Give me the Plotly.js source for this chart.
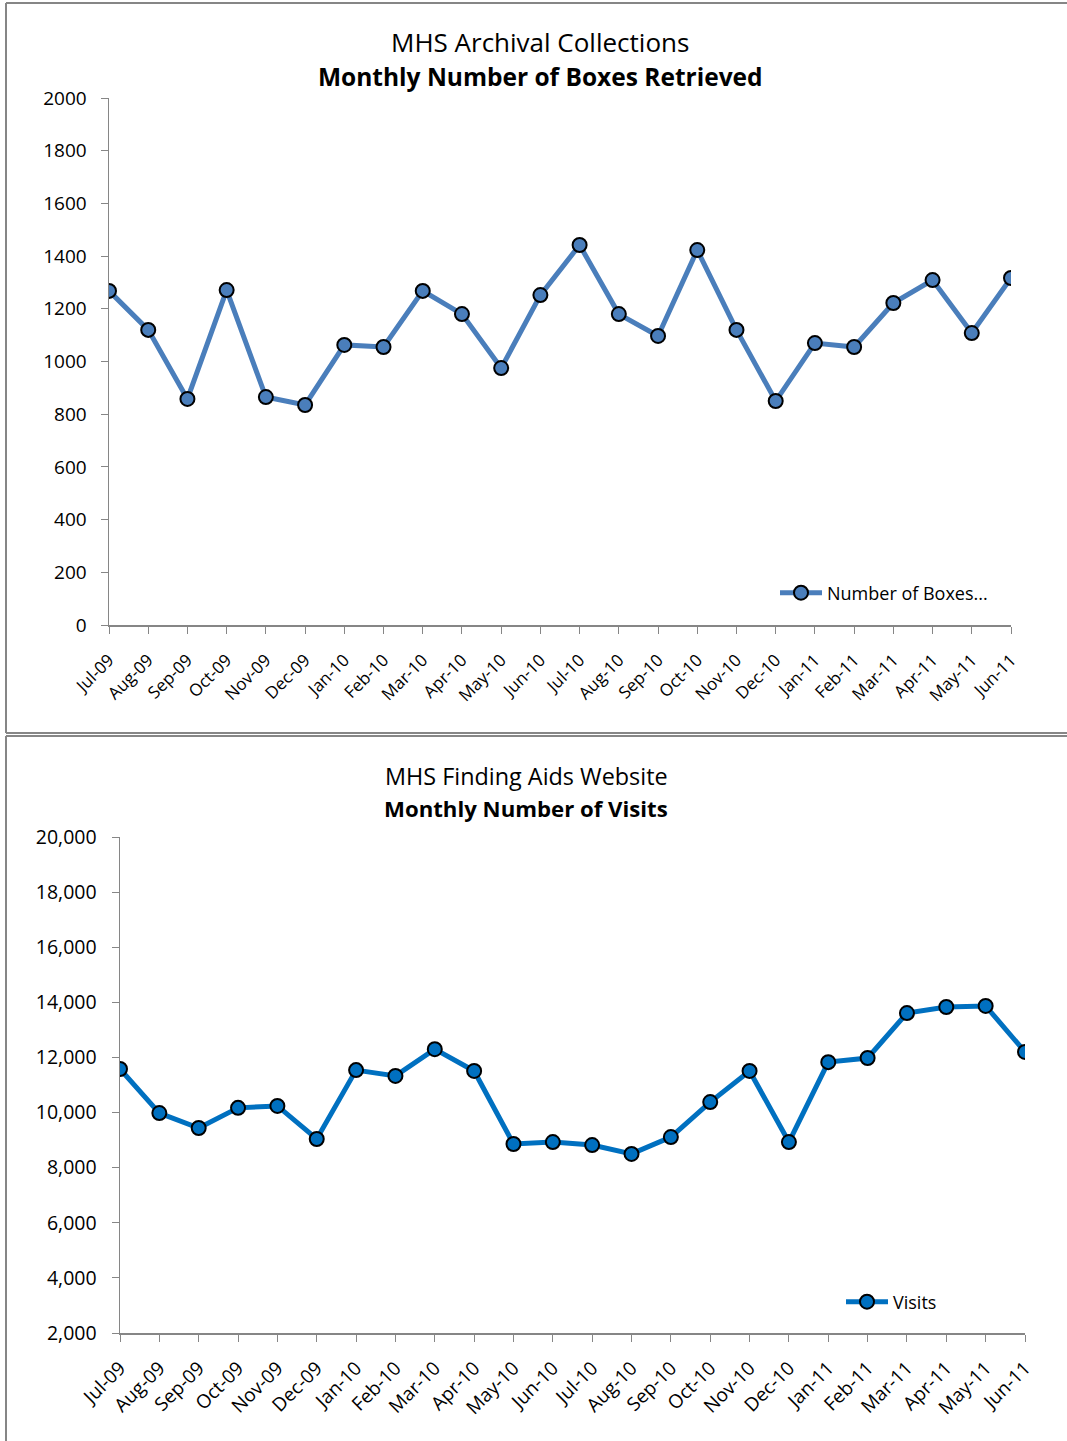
<!DOCTYPE html>
<html>
<head>
<meta charset="utf-8">
<script src="https://cdn.plot.ly/plotly-3.0.1.min.js"></script>
<style>
  body { margin: 0; background: #fff; }
  #chart { width: 1067px; height: 1441px; }
</style>
</head>
<body>
<div id="chart"></div>
<script>
// month labels shared by both charts
const months = ['Jul-09', 'Aug-09', 'Sep-09', 'Oct-09', 'Nov-09', 'Dec-09',
  'Jan-10', 'Feb-10', 'Mar-10', 'Apr-10', 'May-10', 'Jun-10',
  'Jul-10', 'Aug-10', 'Sep-10', 'Oct-10', 'Nov-10', 'Dec-10',
  'Jan-11', 'Feb-11', 'Mar-11', 'Apr-11', 'May-11', 'Jun-11'];

// boxes retrieved per month
const boxes = [1268, 1120, 858, 1271, 865, 835, 1063, 1055, 1268, 1180, 975, 1252,
  1442, 1180, 1097, 1423, 1120, 850, 1070, 1055, 1222, 1309, 1108, 1317];

// finding aids website visits per month
const visits = [11580, 9980, 9440, 10170, 10240, 9040, 11540, 11330, 12300, 11510, 8860, 8930,
  8820, 8500, 9110, 10380, 11510, 8930, 11830, 11980, 13610, 13830, 13870, 12200];

const W = 1067, H = 1441;
const px = x => x / W;
const py = y => (H - y) / H;

const FONT = '"Open Sans", Lato, sans-serif';
const GREY = '#868686';

const boxTrace = {
  x: months, y: boxes,
  name: 'Number of Boxes...',
  type: 'scatter', mode: 'lines+markers',
  line: { color: '#4a7ebb', width: 5 },
  marker: { color: '#4a7ebb', size: 14, line: { color: '#000', width: 2 } },
  xaxis: 'x', yaxis: 'y', legend: 'legend'
};
const visitTrace = {
  x: months, y: visits,
  name: 'Visits',
  type: 'scatter', mode: 'lines+markers',
  line: { color: '#0070c0', width: 5 },
  marker: { color: '#0070c0', size: 14, line: { color: '#000', width: 2 } },
  xaxis: 'x2', yaxis: 'y2', legend: 'legend2'
};

// common axis look (Excel style)
const axisBase = {
  showgrid: false, zeroline: false,
  showline: true, linecolor: GREY, linewidth: 1.5,
  ticks: 'outside', tickcolor: GREY, ticklen: 7, tickwidth: 1,
  fixedrange: true
};

const layout = {
  width: W, height: H,
  margin: { l: 0, r: 0, t: 0, b: 0 },
  paper_bgcolor: '#fff', plot_bgcolor: '#fff',
  font: { family: FONT, color: '#000' },
  showlegend: true,
  xaxis: Object.assign({}, axisBase, {
    domain: [px(109), px(1011)], anchor: 'y',
    type: 'category', range: [0, 23],
    tickangle: -45, tickfont: { size: 17 }, ticklabelstandoff: 10
  }),
  yaxis: Object.assign({}, axisBase, {
    domain: [py(625), py(98)], anchor: 'x',
    range: [0, 2000], dtick: 200, tickfont: { size: 19 }, ticklabelstandoff: 10
  }),
  xaxis2: Object.assign({}, axisBase, {
    domain: [px(120), px(1025)], anchor: 'y2',
    type: 'category', range: [0, 23],
    tickangle: -45, tickfont: { size: 19 }, ticklabelstandoff: 8
  }),
  yaxis2: Object.assign({}, axisBase, {
    domain: [py(1333), py(837)], anchor: 'x2',
    range: [2000, 20000], dtick: 2000, tickformat: ',d', tickfont: { size: 19.5 }, ticklabelstandoff: 11
  }),
  legend: {
    x: px(775), y: py(593), xanchor: 'left', yanchor: 'middle', itemwidth: 42,
    bgcolor: 'rgba(0,0,0,0)', font: { size: 18 }
  },
  legend2: {
    x: px(841), y: py(1302), xanchor: 'left', yanchor: 'middle', itemwidth: 42,
    bgcolor: 'rgba(0,0,0,0)', font: { size: 18 }
  },
  annotations: [
    { text: 'MHS Archival Collections', x: px(540), y: py(42), showarrow: false,
      xref: 'paper', yref: 'paper', yanchor: 'middle', font: { size: 26 } },
    { text: '<b>Monthly Number of Boxes Retrieved</b>', x: px(540), y: py(77), showarrow: false,
      xref: 'paper', yref: 'paper', yanchor: 'middle', font: { size: 24.5 } },
    { text: 'MHS Finding Aids Website', x: px(526), y: py(776), showarrow: false,
      xref: 'paper', yref: 'paper', yanchor: 'middle', font: { size: 23.4 } },
    { text: '<b>Monthly Number of Visits</b>', x: px(526), y: py(808), showarrow: false,
      xref: 'paper', yref: 'paper', yanchor: 'middle', font: { size: 22.2 } }
  ],
  // chart frames
  shapes: [
    { type: 'line', xref: 'paper', yref: 'paper', x0: px(6), x1: px(1067), y0: py(3), y1: py(3),
      line: { color: GREY, width: 2 } },
    { type: 'line', xref: 'paper', yref: 'paper', x0: px(6), x1: px(6), y0: py(3), y1: py(733),
      line: { color: GREY, width: 2 } },
    { type: 'line', xref: 'paper', yref: 'paper', x0: px(6), x1: px(1067), y0: py(733), y1: py(733),
      line: { color: GREY, width: 2 } },
    { type: 'line', xref: 'paper', yref: 'paper', x0: px(6), x1: px(1067), y0: py(736), y1: py(736),
      line: { color: GREY, width: 2 } },
    { type: 'line', xref: 'paper', yref: 'paper', x0: px(6), x1: px(6), y0: py(736), y1: py(1441),
      line: { color: GREY, width: 2 } }
  ]
};

Plotly.newPlot('chart', [boxTrace, visitTrace], layout, { displayModeBar: false, staticPlot: true });
</script>
</body>
</html>
